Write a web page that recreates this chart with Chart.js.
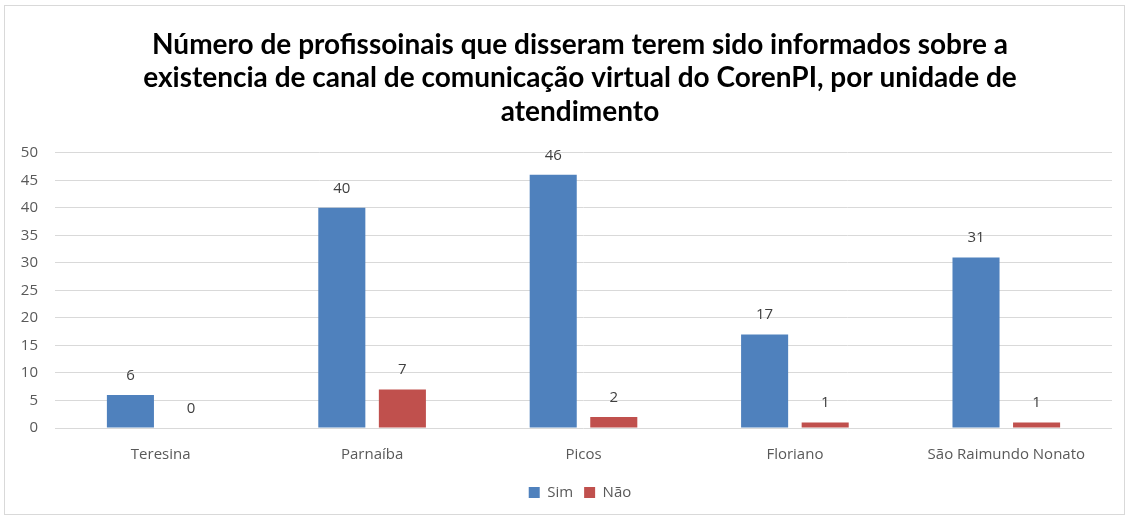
<!DOCTYPE html>
<html><head><meta charset="utf-8">
<script src="https://cdn.jsdelivr.net/npm/chart.js@4"></script>
<style>
html,body{margin:0;padding:0;background:#fff;}
#wrap{position:absolute;left:4px;top:5px;width:1121px;height:510px;border:1px solid #d9d9d9;box-sizing:border-box;}
canvas{display:block;}
</style></head><body>
<div id="wrap"><canvas id="c"></canvas></div>
<script>
const categories = ["Teresina","Parnaíba","Picos","Floriano","São Raimundo Nonato"];
const simValues = [6,40,46,17,31];
const naoValues = [0,7,2,1,1];
const yTicks = [0,5,10,15,20,25,30,35,40,45,50];
const titleLines = ["Número de profissoinais que disseram terem sido informados sobre a","existencia de canal de comunicação virtual do CorenPI, por unidade de","atendimento"];

const valueLabels = {
  id:'valueLabels',
  afterDatasetsDraw(chart){
    const ctx = chart.ctx;
    ctx.save();
    ctx.font = '15px "Open Sans", sans-serif';
    ctx.fillStyle = '#404040';
    ctx.textAlign = 'center';
    ctx.textBaseline = 'bottom';
    chart.data.datasets.forEach((ds,i)=>{
      chart.getDatasetMeta(i).data.forEach((bar,j)=>{
        ctx.fillText(String(ds.data[j]), bar.x, bar.y - 12);
      });
    });
    ctx.restore();
  }
};

const yLabels = {
  id:'yLabels',
  afterDraw(chart){
    const ctx = chart.ctx, s = chart.scales.y;
    ctx.save();
    ctx.font = '15px "Open Sans", sans-serif';
    ctx.fillStyle = '#595959';
    ctx.textAlign = 'right';
    ctx.textBaseline = 'middle';
    yTicks.forEach(v=>{ ctx.fillText(String(v), chart.chartArea.left - 17, s.getPixelForValue(v)); });
    ctx.restore();
  }
};

new Chart(document.getElementById('c'),{
  type:'bar',
  data:{labels:categories,datasets:[
    {label:'Sim',data:simValues,backgroundColor:'#4f81bd',categoryPercentage:0.573,barPercentage:0.777},
    {label:'Não',data:naoValues,backgroundColor:'#c0504d',categoryPercentage:0.573,barPercentage:0.777}
  ]},
  options:{
    responsive:true,maintainAspectRatio:false,animation:false,
    layout:{padding:{left:43,right:12,top:6,bottom:4}},
    plugins:{
      title:{display:true,text:titleLines,color:'#000',font:{family:'Lato',size:28,weight:'bold'},lineHeight:1.16,padding:{top:16,bottom:24}},
      legend:{position:'bottom',labels:{boxWidth:11,boxHeight:11,padding:11,color:'#595959',font:{family:'"Open Sans"',size:15}}},
      tooltip:{enabled:false}
    },
    scales:{
      x:{grid:{display:false},border:{display:false},ticks:{color:'#595959',font:{family:'"Open Sans"',size:15},padding:10}},
      y:{min:0,max:50,afterBuildTicks(s){s.ticks=yTicks.map(v=>({value:v}));},
         afterFit(s){s.width=7;},
         grid:{color:'#d9d9d9',lineWidth:1,drawTicks:false},border:{display:false},
         ticks:{display:false}}
    }
  },
  plugins:[valueLabels,yLabels]
});
</script></body></html>
